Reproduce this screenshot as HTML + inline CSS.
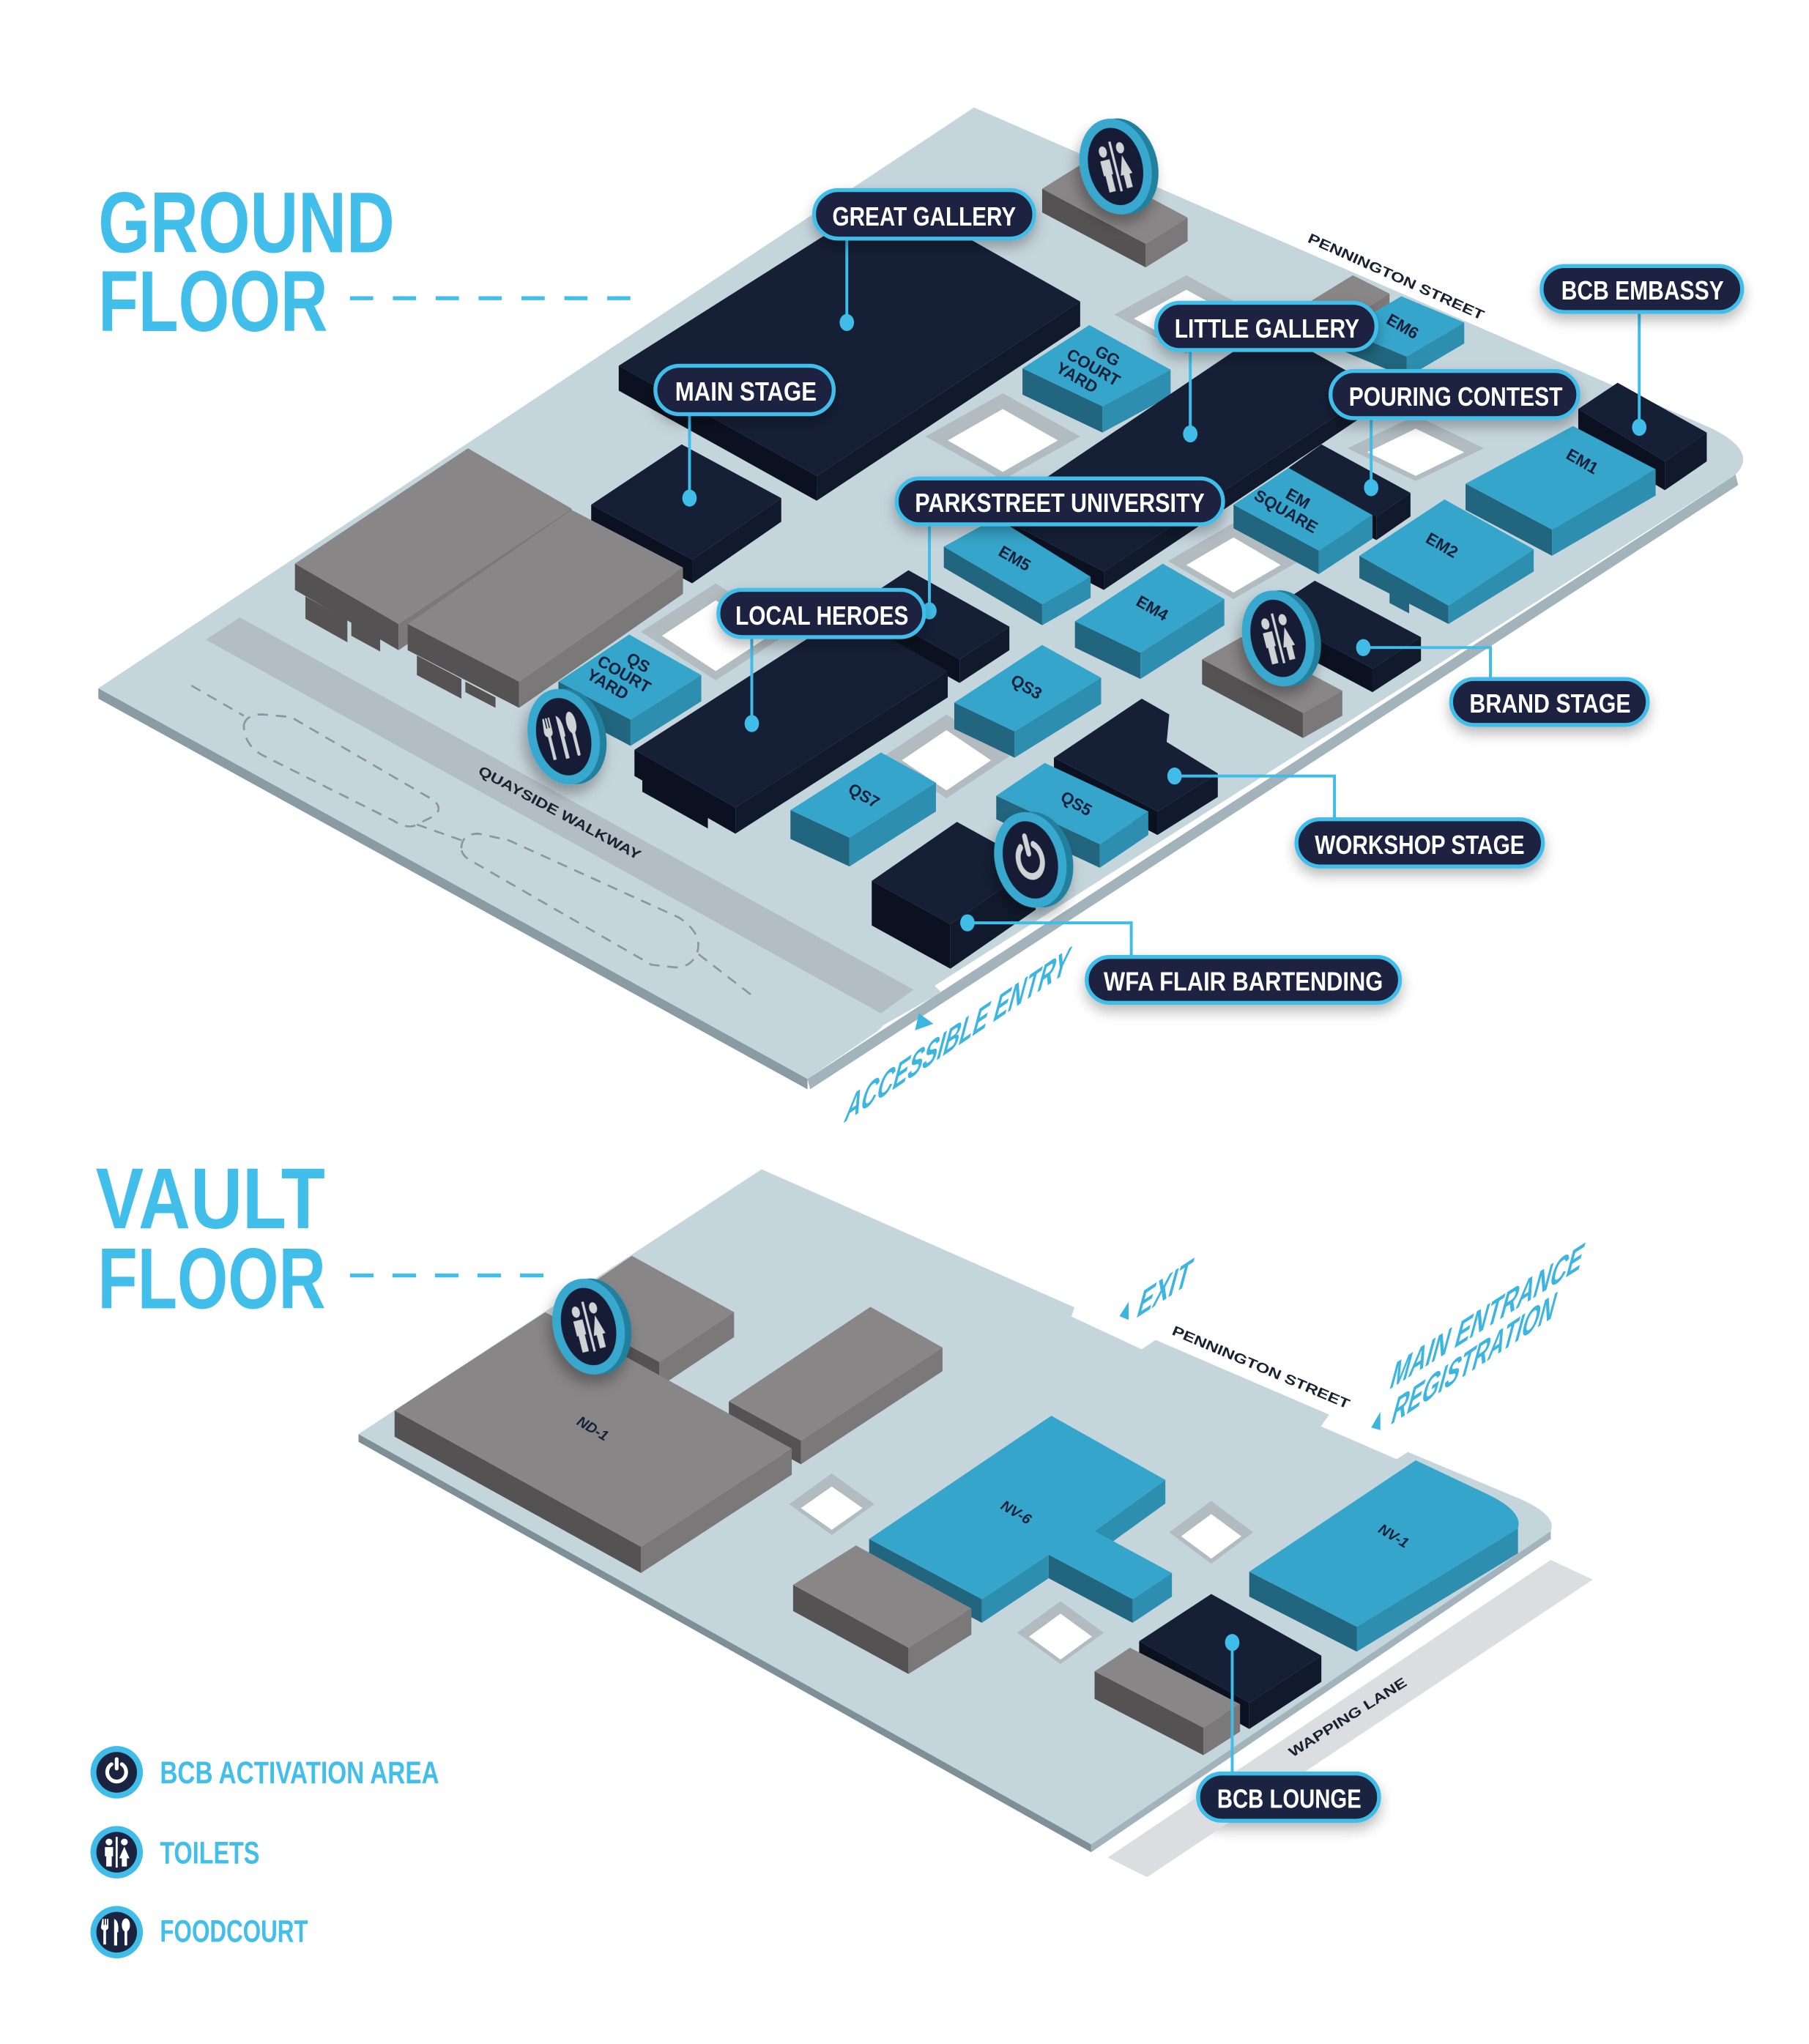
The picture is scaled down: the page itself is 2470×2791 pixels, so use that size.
<!DOCTYPE html>
<html><head><meta charset="utf-8"><title>Floor map</title>
<style>
html,body{margin:0;padding:0;background:#fff;}
svg{display:block;}
.nt{fill:#151f36}.nl{fill:#0b1120}.nr{fill:#111a2d}
.bt{fill:#36a5cb}.bl{fill:#21667e}.br{fill:#2d8eaf}
.gt{fill:#888687}.gl{fill:#545253}.gr{fill:#7a7879}
.lab{font-family:"Liberation Sans",sans-serif;font-weight:700;font-size:12.5px;fill:#16203a;}
.st{font-family:"Liberation Sans",sans-serif;font-weight:700;font-size:10.5px;fill:#1a2130;}
.pill{fill:#1a2440;stroke:#3fbde8;stroke-width:3;}
.pt{font-family:"Liberation Sans Narrow","Liberation Sans",sans-serif;font-weight:700;font-size:20px;fill:#fff;}
.hd{font-family:"Liberation Sans Narrow","Liberation Sans",sans-serif;font-weight:700;font-size:66px;fill:#41bee9;}
.lg{font-family:"Liberation Sans Narrow","Liberation Sans",sans-serif;font-weight:700;font-size:24px;fill:#41bee9;}
.en{font-family:"Liberation Sans",sans-serif;font-weight:700;font-size:25px;fill:#3cb5e0;}
.con{stroke:#3fbde8;stroke-width:2.2;fill:none;}
.dot{fill:#3fbde8;}
.dash{fill:none;stroke:#8f9598;stroke-width:1.5;stroke-dasharray:8 6;}
</style></head>
<body>
<svg width="2470" height="2791" viewBox="0 0 1380 1559.3" preserveAspectRatio="none" xmlns="http://www.w3.org/2000/svg">
<defs>
<filter id="sh" x="-20%" y="-40%" width="140%" height="200%"><feDropShadow dx="0" dy="5" stdDeviation="5" flood-color="#000" flood-opacity="0.28"/></filter>
<filter id="ish" x="-50%" y="-50%" width="200%" height="200%"><feDropShadow dx="-4" dy="6" stdDeviation="5" flood-color="#000" flood-opacity="0.3"/></filter>
</defs>
<rect x="0" y="0" width="1380" height="1559.3" fill="#fff"/>

<!-- ================= GROUND FLOOR ================= -->
<polygon points="75,525 616,823 616,831 75,533" fill="#8a9ba3"/>
<polygon points="616,823 1324,362 1326,370 618,831" fill="#a2b3bb"/>
<path d="M743,82 L1304,326 Q1342,344 1324,362 L713,752 L718,757 L674,782 L669,787 L616,823 L75,525 Z" fill="#c5d5dc"/>
<polygon points="157,488 183,471 697,755 672,773" fill="#b3bdc4"/>
<path class="dash" d="M146,523 L186,546"/>
<path class="dash" d="M186,553 Q188,545 200,545 L222,547 L330,610 Q338,616 332,622 L316,630 Q310,632 300,626 L200,576 Q186,568 186,553 Z"/>
<path class="dash" d="M318,629 L352,641"/>
<path class="dash" d="M352,647 Q352,636 365,636 L388,641 L518,700 Q536,712 532,726 Q528,738 515,738 L497,736 L360,657 Q352,653 352,647 Z"/>
<path class="dash" d="M533,728 L577,762"/>

<g>
<polygon points="765,300 824,333 765,366 706,333" fill="#b1bbc0"/><polygon points="765,312 807,336 765,360 723,336" fill="#fff"/>
<polygon points="905,210 960,240 905,270 850,240" fill="#b1bbc0"/><polygon points="905,221 945,243 905,265 865,243" fill="#fff"/>
<polygon points="1080,317 1132,342 1080,367 1028,342" fill="#b1bbc0"/><polygon points="1080,327 1117,345 1080,363 1043,345" fill="#fff"/>
<polygon points="941,399 991,428 941,457 891,428" fill="#b1bbc0"/><polygon points="941,410 977,431 941,452 905,431" fill="#fff"/>
<polygon points="546,445 603,482 546,519 489,482" fill="#b1bbc0"/><polygon points="546,458 587,485 546,512 505,485" fill="#fff"/>
<polygon points="722,545 770,577 722,609 674,577" fill="#b1bbc0"/><polygon points="722,557 756,580 722,603 688,580" fill="#fff"/>
</g>

<polygon class="gl" points="795,144 874,186 874,204 795,162"/><polygon class="gr" points="874,186 906,166 906,184 874,204"/><polygon class="gt" points="795,144 827,124 906,166 874,186"/>
<polygon class="gl" points="1001,229 1029,243 1029,253 1001,239"/><polygon class="gr" points="1029,243 1060,224 1060,234 1029,253"/><polygon class="gt" points="1001,229 1032,210 1060,224 1029,243"/>
<polygon class="bl" points="1025,252 1073,272 1073,288 1025,268"/><polygon class="br" points="1073,272 1117,246 1117,262 1073,288"/><polygon class="bt" points="1025,252 1069,226 1117,246 1073,272"/>
<polygon class="bl" points="780,281 841,310 841,330 780,301"/><polygon class="br" points="841,310 893,282 893,302 841,330"/><polygon class="bt" points="780,281 831,248 893,282 841,310"/>
<polygon class="nl" points="1204,312 1270,352 1270,374 1204,334"/><polygon class="nr" points="1270,352 1302,330 1302,352 1270,374"/><polygon class="nt" points="1204,312 1234,292 1302,330 1270,352"/>
<polygon class="nl" points="472,279 623,363 623,382 472,298"/><polygon class="nr" points="623,363 824,230 824,249 623,382"/><polygon class="nt" points="472,279 679,148 824,230 623,363"/>
<polygon class="bl" points="1118,369 1184,404 1184,424 1118,389"/><polygon class="br" points="1184,404 1263,358 1263,378 1184,424"/><polygon class="bt" points="1118,369 1200,325 1263,358 1184,404"/>
<polygon class="nl" points="757,392 842,436 842,450 757,406"/><polygon class="nr" points="842,436 1051,296 1051,310 842,450"/><polygon class="nt" points="757,392 968,250 1051,296 842,436"/>
<polygon class="nl" points="983,357 1050,394 1050,412 983,377"/><polygon class="nr" points="1050,394 1076,376 1076,394 1050,412"/><polygon class="nt" points="983,357 1008,339 1076,376 1050,394"/>
<polygon class="bl" points="941,385 1006,420 1006,438 941,403"/><polygon class="br" points="1006,420 1047,393 1047,411 1006,438"/><polygon class="bt" points="941,385 983,357 1047,393 1006,420"/>
<polygon class="nl" points="451,385 528,427 528,445 451,403"/><polygon class="nr" points="528,427 596,380 596,398 528,445"/><polygon class="nt" points="451,385 520,339 596,380 528,427"/>
<polygon class="bl" points="1037,424 1105,462 1105,476 1037,441"/><polygon class="br" points="1105,462 1170,419 1170,436 1105,476"/><polygon class="bt" points="1037,424 1102,381 1170,419 1105,462"/>
<polygon class="bl" points="1060,446 1075,454 1075,468 1060,460"/>
<polygon class="bl" points="720,417 795,461 795,477 720,433"/><polygon class="br" points="795,461 832,440 832,456 795,477"/><polygon class="bt" points="720,417 760,395 832,440 795,461"/>
<polygon class="gl" points="225,430 304,476 304,496 225,450"/><polygon class="gr" points="304,476 436,388 436,408 304,496"/><polygon class="gt" points="225,430 357,342 436,388 304,476"/>
<polygon class="gl" points="233,455 265,473 265,490 233,472"/><polygon class="gl" points="268,475 290,487 290,497 268,485"/>
<polygon class="gl" points="311,476 396,520 396,540 311,496"/><polygon class="gr" points="396,520 521,433 521,453 396,540"/><polygon class="gt" points="311,476 436,389 521,433 396,520"/>
<polygon class="gl" points="318,500 352,518 352,533 318,515"/><polygon class="gl" points="355,520 378,532 378,540 355,528"/>
<polygon class="bl" points="820,474 870,498 870,518 820,494"/><polygon class="br" points="870,498 934,457 934,477 870,518"/><polygon class="bt" points="820,474 887,430 934,457 870,498"/>
<polygon class="nl" points="655,460 732,503 732,521 655,478"/><polygon class="nr" points="732,503 770,478 770,496 732,521"/><polygon class="nt" points="655,460 693,435 770,478 732,503"/>
<polygon class="nl" points="966,467 1047,510 1047,528 966,485"/><polygon class="nr" points="1047,510 1084,486 1084,504 1047,528"/><polygon class="nt" points="966,467 1003,443 1084,486 1047,510"/>
<polygon class="gl" points="917,503 994,544 994,563 917,522"/><polygon class="gr" points="994,544 1024,527 1024,546 994,563"/><polygon class="gt" points="917,503 947,486 1024,527 994,544"/>
<polygon class="bl" points="426,520 481,549 481,569 426,540"/><polygon class="br" points="481,549 535,515 535,535 481,569"/><polygon class="bt" points="426,520 480,484 535,515 481,549"/>
<polygon class="bl" points="728,536 774,558 774,578 728,556"/><polygon class="br" points="774,558 840,517 840,537 774,578"/><polygon class="bt" points="728,536 795,492 840,517 774,558"/>
<polygon class="nl" points="484,572 561,616 561,636 484,592"/><polygon class="nr" points="561,616 723,512 723,532 561,636"/><polygon class="nt" points="484,572 646,468 723,512 561,616"/>
<polygon class="nl" points="490,590 540,618 540,632 490,604"/>
<polygon class="nl" points="804,578 883,619 883,637 804,596"/><polygon class="nr" points="883,619 929,590 929,608 883,637"/><polygon class="nt" points="804,578 871,533 892,545 890,566 929,590 883,619"/>
<polygon class="bl" points="603,618 648,639 648,661 603,640"/><polygon class="br" points="648,639 714,597 714,619 648,661"/><polygon class="bt" points="603,618 672,574 714,597 648,639"/>
<polygon class="bl" points="760,607 839,644 839,662 760,625"/><polygon class="br" points="839,644 876,619 876,637 839,662"/><polygon class="bt" points="760,607 797,582 876,619 839,644"/>
<polygon class="nl" points="665,672 725,705 725,739 665,706"/><polygon class="nr" points="725,705 790,660 790,694 725,739"/><polygon class="nt" points="665,672 730,627 790,660 725,705"/>

<text class="lab" transform="translate(774,426) rotate(30)" text-anchor="middle" dominant-baseline="central">EM5</text>
<text class="lab" transform="translate(879,464) rotate(30)" text-anchor="middle" dominant-baseline="central">EM4</text>
<text class="lab" transform="translate(1070,249) rotate(30)" text-anchor="middle" dominant-baseline="central">EM6</text>
<text class="lab" transform="translate(1207,352) rotate(30)" text-anchor="middle" dominant-baseline="central">EM1</text>
<text class="lab" transform="translate(1100,416) rotate(30)" text-anchor="middle" dominant-baseline="central">EM2</text>
<text class="lab" transform="translate(783,524) rotate(30)" text-anchor="middle" dominant-baseline="central">QS3</text>
<text class="lab" transform="translate(659,607) rotate(30)" text-anchor="middle" dominant-baseline="central">QS7</text>
<text class="lab" transform="translate(821,613) rotate(30)" text-anchor="middle" dominant-baseline="central">QS5</text>
<text class="lab" transform="translate(988,384) rotate(30)" text-anchor="middle"><tspan x="0" y="0">EM</tspan><tspan x="-3" y="13">SQUARE</tspan></text>
<text class="lab" transform="translate(836,277) rotate(30)" text-anchor="middle"><tspan x="5" y="-5">GG</tspan><tspan x="0" y="8">COURT</tspan><tspan x="-7" y="21">YARD</tspan></text>
<text class="lab" transform="translate(478,511) rotate(30)" text-anchor="middle"><tspan x="5" y="-5">QS</tspan><tspan x="0" y="8">COURT</tspan><tspan x="-7" y="21">YARD</tspan></text>

<text class="st" transform="translate(1065,211) rotate(24.2)" text-anchor="middle" dominant-baseline="central" textLength="146" lengthAdjust="spacingAndGlyphs">PENNINGTON STREET</text>
<text class="st" transform="translate(427,620) rotate(28.3)" text-anchor="middle" dominant-baseline="central" textLength="139" lengthAdjust="spacingAndGlyphs">QUAYSIDE WALKWAY</text>

<text class="en" transform="translate(643,857) skewY(-34) skewX(-18)" textLength="170" lengthAdjust="spacingAndGlyphs">ACCESSIBLE ENTRY</text>
<polygon points="698,786 701,773 712,781" fill="#3cb5e0"/>

<g filter="url(#ish)" transform="translate(851,127) rotate(-14)">
<ellipse cx="5" cy="1" rx="27" ry="37" fill="#24809f"/><ellipse rx="27" ry="37" fill="#38a8cf"/><ellipse rx="20.5" ry="30" fill="#141e35"/>
<g transform="scale(0.9,1.3)" fill="#cfd3d6"><circle cx="-7.5" cy="-10" r="3.3"/><path d="M-11.5,-5 h8 v9 h-1.3 v10 h-5.4 v-10 h-1.3 z"/><rect x="-1" y="-15" width="2" height="30"/><circle cx="7.5" cy="-10" r="3.3"/><path d="M7.5,-5.5 L12.5,6 L10,6 L10,14 L5,14 L5,6 L2.5,6 z"/></g>
</g>
<g filter="url(#ish)" transform="translate(975,487) rotate(-14)">
<ellipse cx="5" cy="1" rx="27" ry="37" fill="#24809f"/><ellipse rx="27" ry="37" fill="#38a8cf"/><ellipse rx="20.5" ry="30" fill="#141e35"/>
<g transform="scale(0.9,1.3)" fill="#cfd3d6"><circle cx="-7.5" cy="-10" r="3.3"/><path d="M-11.5,-5 h8 v9 h-1.3 v10 h-5.4 v-10 h-1.3 z"/><rect x="-1" y="-15" width="2" height="30"/><circle cx="7.5" cy="-10" r="3.3"/><path d="M7.5,-5.5 L12.5,6 L10,6 L10,14 L5,14 L5,6 L2.5,6 z"/></g>
</g>
<g filter="url(#ish)" transform="translate(430,562) rotate(-14)">
<ellipse cx="5" cy="1" rx="27" ry="37" fill="#24809f"/><ellipse rx="27" ry="37" fill="#38a8cf"/><ellipse rx="20.5" ry="30" fill="#141e35"/>
<g transform="scale(0.9,1.3)" fill="#cfd3d6"><path d="M-14,-13 h1.3 v6 h1 v-6 h1.3 v6 h1 v-6 h1.3 v8 q0,2.5 -2.3,3 v14 h-2.6 v-14 q-2.3,-0.5 -2.3,-3 z"/><path d="M-2.5,-13 q5,2 4,13 h-1 v13 h-3 z"/><ellipse cx="9" cy="-7" rx="4" ry="6.5"/><rect x="7.7" y="-2" width="2.6" height="15" rx="1"/></g>
</g>
<g filter="url(#ish)" transform="translate(786,656) rotate(-14)">
<ellipse cx="5" cy="1" rx="27" ry="37" fill="#24809f"/><ellipse rx="27" ry="37" fill="#38a8cf"/><ellipse rx="20.5" ry="30" fill="#141e35"/>
<g transform="scale(0.9,1.3)"><path d="M-5.5,-8.5 A10,10 0 1,0 5.5,-8.5" fill="none" stroke="#cfd3d6" stroke-width="4" stroke-linecap="round"/><line x1="0" y1="-14" x2="0" y2="-4" stroke="#cfd3d6" stroke-width="4" stroke-linecap="round"/></g>
</g>

<line class="con" x1="646" y1="182" x2="646" y2="246"/><ellipse class="dot" cx="646" cy="246" rx="5.5" ry="6.5"/>
<line class="con" x1="526" y1="316" x2="526" y2="380"/><ellipse class="dot" cx="526" cy="380" rx="5.5" ry="6.5"/>
<line class="con" x1="908" y1="267" x2="908" y2="331"/><ellipse class="dot" cx="908" cy="331" rx="5.5" ry="6.5"/>
<line class="con" x1="1046" y1="319" x2="1046" y2="372"/><ellipse class="dot" cx="1046" cy="372" rx="5.5" ry="6.5"/>
<line class="con" x1="1250.5" y1="238" x2="1250.5" y2="326"/><ellipse class="dot" cx="1250.5" cy="326" rx="5.5" ry="6.5"/>
<line class="con" x1="709" y1="400" x2="709" y2="466"/><ellipse class="dot" cx="709" cy="466" rx="5.5" ry="6.5"/>
<line class="con" x1="573.5" y1="486" x2="573.5" y2="552"/><ellipse class="dot" cx="573.5" cy="552" rx="5.5" ry="6.5"/>
<polyline class="con" points="1040,494 1137,494 1137,518"/><ellipse class="dot" cx="1040" cy="494" rx="5.5" ry="6.5"/>
<polyline class="con" points="896,592 1018,592 1018,625"/><ellipse class="dot" cx="896" cy="592" rx="5.5" ry="6.5"/>
<polyline class="con" points="738,704 863,704 863,730"/><ellipse class="dot" cx="738" cy="704" rx="5.5" ry="6.5"/>

<g filter="url(#sh)">
<rect class="pill" x="621" y="145" width="168" height="37" rx="18.5"/>
<rect class="pill" x="500" y="279" width="136" height="37" rx="18.5"/>
<rect class="pill" x="882" y="231" width="168" height="36" rx="18"/>
<rect class="pill" x="1015" y="283" width="189" height="36" rx="18"/>
<rect class="pill" x="1176" y="203" width="153" height="35" rx="17.5"/>
<rect class="pill" x="684" y="365" width="249" height="35" rx="17.5"/>
<rect class="pill" x="548" y="450" width="157" height="36" rx="18"/>
<rect class="pill" x="1107" y="518" width="150" height="35" rx="17.5"/>
<rect class="pill" x="989" y="625" width="188" height="36" rx="18"/>
<rect class="pill" x="829" y="730" width="239" height="35" rx="17.5"/>
<rect class="pill" x="914" y="1353" width="138" height="36" rx="18"/>
</g>
<text class="pt" x="635" y="172" textLength="140" lengthAdjust="spacingAndGlyphs">GREAT GALLERY</text>
<text class="pt" x="515" y="305.5" textLength="108" lengthAdjust="spacingAndGlyphs">MAIN STAGE</text>
<text class="pt" x="896" y="257.5" textLength="141" lengthAdjust="spacingAndGlyphs">LITTLE GALLERY</text>
<text class="pt" x="1029" y="309.5" textLength="163" lengthAdjust="spacingAndGlyphs">POURING CONTEST</text>
<text class="pt" x="1191" y="228.5" textLength="124" lengthAdjust="spacingAndGlyphs">BCB EMBASSY</text>
<text class="pt" x="698" y="390.5" textLength="221" lengthAdjust="spacingAndGlyphs">PARKSTREET UNIVERSITY</text>
<text class="pt" x="561" y="476.5" textLength="132" lengthAdjust="spacingAndGlyphs">LOCAL HEROES</text>
<text class="pt" x="1121" y="543.5" textLength="123" lengthAdjust="spacingAndGlyphs">BRAND STAGE</text>
<text class="pt" x="1003" y="651.5" textLength="160" lengthAdjust="spacingAndGlyphs">WORKSHOP STAGE</text>
<text class="pt" x="842" y="755.5" textLength="213" lengthAdjust="spacingAndGlyphs">WFA FLAIR BARTENDING</text>

<text class="hd" x="75" y="192.5" textLength="226" lengthAdjust="spacingAndGlyphs">GROUND</text>
<text class="hd" x="75" y="252.5" textLength="175" lengthAdjust="spacingAndGlyphs">FLOOR</text>
<line x1="267" y1="227.5" x2="482" y2="227.5" stroke="#41bee9" stroke-width="3" stroke-dasharray="17.7 15"/>

<!-- ================= VAULT FLOOR ================= -->
<polygon points="273.5,1094 832.4,1407 832.4,1413 273.5,1100" fill="#7f8f97"/>
<polygon points="832.4,1407 1183,1168 1183,1174 832.4,1413" fill="#a3b3bb"/>
<path d="M581,892 L819.6,997.3 L817.4,1004.4 L870.9,1029.3 L881.6,1022.2 L1014,1079.2 L1007.7,1088.1 L1065.4,1113.1 L1074,1107.7 L1159.5,1143.4 Q1188,1156 1183,1168 L832.4,1407 L273.5,1094 Z" fill="#c5d5dc"/>
<polygon points="1183,1190 1215,1205 875,1432 845,1417" fill="#dcdde0"/>
<polygon points="634.5,1124 667,1147.5 634.5,1171 602,1147.5" fill="#b1bbc0"/><polygon points="634.5,1134 658,1150.5 634.5,1167 611,1150.5" fill="#fff"/>
<polygon points="809,1221.5 842,1245.5 809,1269.5 776,1245.5" fill="#b1bbc0"/><polygon points="809,1231 833,1248.5 809,1266 785,1248.5" fill="#fff"/>
<polygon points="924,1145 956,1169 924,1193 892,1169" fill="#b1bbc0"/><polygon points="924,1155 947,1172 924,1189 901,1172" fill="#fff"/>
<polygon class="gl" points="425,997 503,1039 503,1058 425,1016"/><polygon class="gr" points="503,1039 560,1001 560,1020 503,1058"/><polygon class="gt" points="425,997 482,958 560,1001 503,1039"/>
<polygon class="gl" points="556,1069 611,1099 611,1117 556,1087"/><polygon class="gr" points="611,1099 719,1028 719,1046 611,1117"/><polygon class="gt" points="556,1069 664,997 719,1028 611,1099"/>
<polygon class="gl" points="301,1076 489,1180 489,1200 301,1096"/><polygon class="gr" points="489,1180 604,1105 604,1125 489,1200"/><polygon class="gt" points="301,1076 416,1001 604,1105 489,1180"/>
<polygon class="bl" points="663,1174 749,1220 749,1238 663,1192"/>
<polygon class="br" points="749,1220 800,1186 800,1204 749,1238"/>
<polygon class="bl" points="800,1186 864,1220 864,1238 800,1204"/>
<polygon class="br" points="864,1220 894,1200 894,1218 864,1238"/>
<polygon class="br" points="835,1168 889,1129 889,1147 835,1186"/>
<polygon class="bt" points="663,1174 802,1080 889,1129 835,1168 894,1200 864,1220 800,1186 749,1220"/>
<polygon class="gl" points="605,1209 693,1257 693,1277 605,1229"/><polygon class="gr" points="693,1257 741,1227 741,1247 693,1277"/><polygon class="gt" points="605,1209 653,1179 741,1227 693,1257"/>
<polygon class="bl" points="953,1199 1035,1241 1035,1260 953,1218"/>
<polygon class="br" points="1035,1241 1158,1166 1158,1185 1035,1260"/>
<path class="bt" d="M953,1199 L1080,1114 L1135,1140 Q1162,1153 1158,1166 L1035,1241 Z"/>
<polygon class="nl" points="869,1252 953,1299 953,1319 869,1272"/><polygon class="nr" points="953,1299 1008,1263 1008,1283 953,1319"/><polygon class="nt" points="869,1252 924,1216 1008,1263 953,1299"/>
<polygon class="gl" points="835,1275 918,1318 918,1339 835,1296"/><polygon class="gr" points="918,1318 946,1300 946,1321 918,1339"/><polygon class="gt" points="835,1275 862,1257 946,1300 918,1318"/>

<text class="lab" style="font-style:italic;font-size:11px" transform="translate(452,1090) rotate(31)" text-anchor="middle" dominant-baseline="central">ND-1</text>
<text class="lab" style="font-style:italic;font-size:11px" transform="translate(775,1154) rotate(31)" text-anchor="middle" dominant-baseline="central">NV-6</text>
<text class="lab" style="font-style:italic;font-size:11px" transform="translate(1063,1172) rotate(31)" text-anchor="middle" dominant-baseline="central">NV-1</text>

<text class="st" transform="translate(962,1043) rotate(23)" text-anchor="middle" dominant-baseline="central" textLength="146" lengthAdjust="spacingAndGlyphs">PENNINGTON STREET</text>
<text class="st" transform="translate(1028,1310) rotate(-32.2)" text-anchor="middle" dominant-baseline="central" textLength="104" lengthAdjust="spacingAndGlyphs">WAPPING LANE</text>

<text class="en" transform="translate(866,1006) skewY(-33) skewX(-18)" textLength="40" lengthAdjust="spacingAndGlyphs">EXIT</text>
<polygon points="861,993 861,1007 854,1004" fill="#3cb5e0"/>
<text class="en" transform="translate(1059,1060.5) skewY(-32.4) skewX(-18)" textLength="146" lengthAdjust="spacingAndGlyphs">MAIN ENTRANCE</text>
<text class="en" transform="translate(1060,1087.5) skewY(-33.5) skewX(-18)" textLength="124" lengthAdjust="spacingAndGlyphs">REGISTRATION</text>
<polygon points="1053,1077 1053,1091 1046,1089" fill="#3cb5e0"/>

<g filter="url(#ish)" transform="translate(449,1012) rotate(-14)">
<ellipse cx="5" cy="1" rx="27" ry="37" fill="#24809f"/><ellipse rx="27" ry="37" fill="#38a8cf"/><ellipse rx="20.5" ry="30" fill="#141e35"/>
<g transform="scale(0.9,1.3)" fill="#cfd3d6"><circle cx="-7.5" cy="-10" r="3.3"/><path d="M-11.5,-5 h8 v9 h-1.3 v10 h-5.4 v-10 h-1.3 z"/><rect x="-1" y="-15" width="2" height="30"/><circle cx="7.5" cy="-10" r="3.3"/><path d="M7.5,-5.5 L12.5,6 L10,6 L10,14 L5,14 L5,6 L2.5,6 z"/></g>
</g>

<line class="con" x1="940" y1="1253" x2="940" y2="1353"/><ellipse class="dot" cx="940" cy="1253" rx="5.5" ry="6.5"/>
<rect class="pill" x="914" y="1353" width="138" height="36" rx="18"/>
<text class="pt" x="928.5" y="1379" textLength="110" lengthAdjust="spacingAndGlyphs">BCB LOUNGE</text>

<text class="hd" x="73" y="937" textLength="175" lengthAdjust="spacingAndGlyphs">VAULT</text>
<text class="hd" x="74.5" y="998" textLength="174" lengthAdjust="spacingAndGlyphs">FLOOR</text>
<line x1="267" y1="973" x2="416" y2="973" stroke="#41bee9" stroke-width="3" stroke-dasharray="18 14.4"/>

<g transform="translate(89,1352)">
<circle r="20" fill="#3fbde8"/><circle r="15.5" fill="#1a2440"/>
<g transform="scale(0.72)"><path d="M-5.5,-8.5 A10,10 0 1,0 5.5,-8.5" fill="none" stroke="#fff" stroke-width="4" stroke-linecap="round"/><line x1="0" y1="-14" x2="0" y2="-4" stroke="#fff" stroke-width="4" stroke-linecap="round"/></g>
</g>
<g transform="translate(89,1413)">
<circle r="20" fill="#3fbde8"/><circle r="15.5" fill="#1a2440"/>
<g transform="scale(0.78)" fill="#fff"><circle cx="-7.5" cy="-10" r="3.3"/><path d="M-11.5,-5 h8 v9 h-1.3 v10 h-5.4 v-10 h-1.3 z"/><rect x="-1" y="-15" width="2" height="30"/><circle cx="7.5" cy="-10" r="3.3"/><path d="M7.5,-5.5 L12.5,6 L10,6 L10,14 L5,14 L5,6 L2.5,6 z"/></g>
</g>
<g transform="translate(89,1474)">
<circle r="20" fill="#3fbde8"/><circle r="15.5" fill="#1a2440"/>
<g transform="scale(0.78)" fill="#fff"><path d="M-14,-13 h1.3 v6 h1 v-6 h1.3 v6 h1 v-6 h1.3 v8 q0,2.5 -2.3,3 v14 h-2.6 v-14 q-2.3,-0.5 -2.3,-3 z"/><path d="M-2.5,-13 q5,2 4,13 h-1 v13 h-3 z"/><ellipse cx="9" cy="-7" rx="4" ry="6.5"/><rect x="7.7" y="-2" width="2.6" height="15" rx="1"/></g>
</g>
<text class="lg" x="122" y="1360.5" textLength="213" lengthAdjust="spacingAndGlyphs">BCB ACTIVATION AREA</text>
<text class="lg" x="122" y="1421.5" textLength="76" lengthAdjust="spacingAndGlyphs">TOILETS</text>
<text class="lg" x="122" y="1481.5" textLength="113" lengthAdjust="spacingAndGlyphs">FOODCOURT</text>
</svg>
</body></html>
